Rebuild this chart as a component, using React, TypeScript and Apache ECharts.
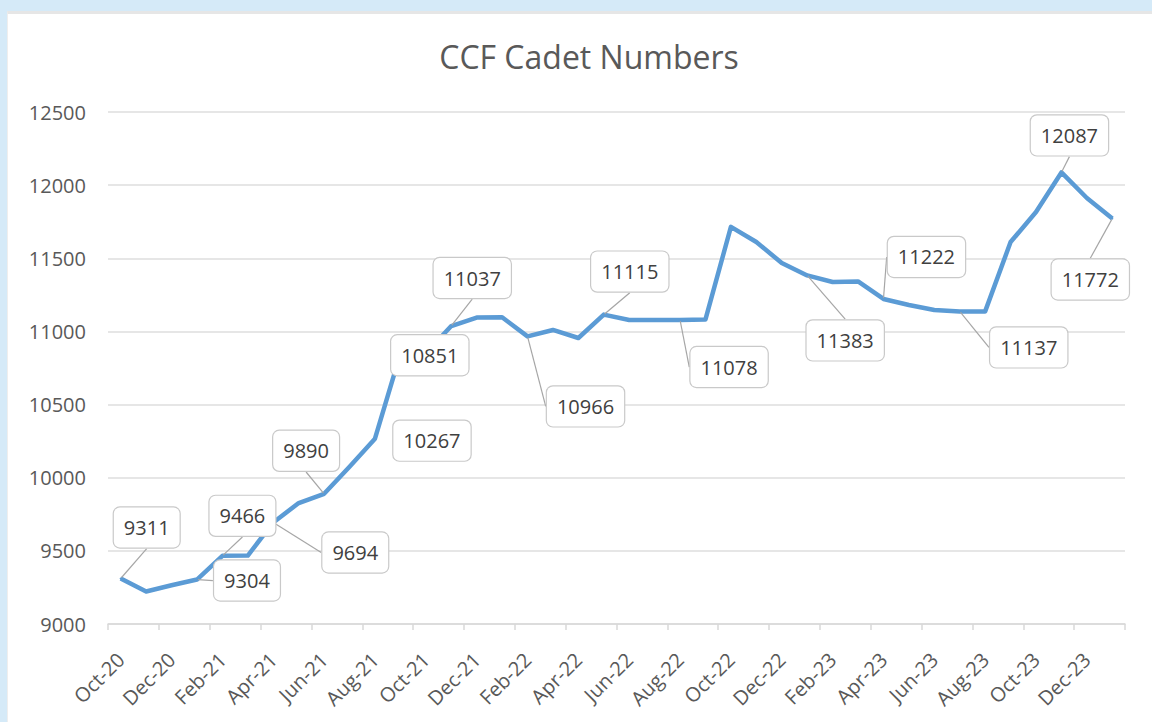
import React, { useEffect, useRef } from "react";
import * as echarts from "echarts";

const months: string[] = [
  "Oct-20", "Nov-20", "Dec-20", "Jan-21", "Feb-21", "Mar-21", "Apr-21", "May-21", "Jun-21", "Jul-21",
  "Aug-21", "Sep-21", "Oct-21", "Nov-21", "Dec-21", "Jan-22", "Feb-22", "Mar-22", "Apr-22", "May-22",
  "Jun-22", "Jul-22", "Aug-22", "Sep-22", "Oct-22", "Nov-22", "Dec-22", "Jan-23", "Feb-23", "Mar-23",
  "Apr-23", "May-23", "Jun-23", "Jul-23", "Aug-23", "Sep-23", "Oct-23", "Nov-23", "Dec-23", "Jan-24",
];

const cadets: number[] = [
  9311, 9222, 9265, 9304, 9466, 9468, 9694, 9827, 9890, 10075,
  10267, 10848, 10851, 11037, 11095, 11097, 10966, 11010, 10955, 11115,
  11078, 11078, 11078, 11082, 11715, 11611, 11468, 11383, 11338, 11342,
  11222, 11181, 11147, 11137, 11137, 11611, 11816, 12087, 11912, 11772,
];

// indices of points whose value is shown in a callout
const labelledPoints: number[] = [0, 3, 4, 6, 8, 10, 12, 13, 16, 19, 22, 27, 30, 33, 37, 39];

// callout offsets (label centre relative to the point), in pixels
const calloutOffsets: Record<number, [number, number]> = {
  0: [26, -51],
  3: [50, 1],
  4: [20, -40],
  6: [82, 30],
  8: [-18, -43],
  10: [57, 2],
  12: [4, 2],
  13: [21, -48],
  16: [58, 70],
  19: [26, -43],
  22: [49, 47],
  27: [38, 65],
  30: [43, -42],
  33: [69, 36],
  37: [8, -37],
  39: [-22, 61],
};
const noLeader: number[] = [10, 12];

const yMin = 9000;
const yMax = 12500;
const yStep = 500;

const FONT = "'Open Sans', 'Noto Sans', sans-serif";

export default function App() {
  const ref = useRef<HTMLDivElement>(null);

  useEffect(() => {
    if (!ref.current) return;
    const chart = echarts.init(ref.current, undefined, { renderer: "svg" });

    const seriesData = cadets.map((v, i) => {
      if (labelledPoints.indexOf(i) < 0) return v;
      return {
        value: v,
        label: { show: true },
        labelLine: { show: noLeader.indexOf(i) < 0 },
      };
    });

    chart.setOption({
      animation: false,
      backgroundColor: "transparent",
      title: {
        text: "CCF Cadet Numbers",
        left: 584,
        top: 35,
        textAlign: "center",
        textStyle: {
          fontFamily: FONT,
          fontSize: 32,
          fontWeight: "normal",
          color: "#595959",
        },
      },
      grid: { left: 108, right: 27, top: 112, bottom: 98, containLabel: false },
      xAxis: {
        type: "category",
        data: months,
        boundaryGap: true,
        axisLine: { lineStyle: { color: "#d9d9d9", width: 1.5 } },
        axisTick: {
          show: true,
          interval: 1,
          length: 6,
          lineStyle: { color: "#d9d9d9", width: 1.5 },
        },
        axisLabel: {
          interval: 1,
          rotate: 45,
          margin: 32,
          fontFamily: FONT,
          fontSize: 20,
          color: "#595959",
        },
        splitLine: { show: false },
      },
      yAxis: {
        type: "value",
        min: yMin,
        max: yMax,
        interval: yStep,
        axisLine: { show: false },
        axisTick: { show: false },
        axisLabel: {
          margin: 22,
          fontFamily: FONT,
          fontSize: 20,
          color: "#595959",
          formatter: (v: number) => String(v),
        },
        splitLine: { lineStyle: { color: "#dedede", width: 1.5 } },
      },
      series: [
        {
          type: "line",
          data: seriesData,
          showSymbol: true,
          showAllSymbol: true,
          symbol: "circle",
          symbolSize: 2,
          itemStyle: { color: "#5b9bd5" },
          lineStyle: { color: "#5b9bd5", width: 4.5, join: "round" },
          label: {
            show: false,
            position: "top",
            fontFamily: FONT,
            fontSize: 20,
            color: "#404040",
            backgroundColor: "#ffffff",
            borderColor: "#c9c9c9",
            borderWidth: 1.2,
            borderRadius: 6,
            padding: [8, 10, 8, 10],
            lineHeight: 24,
          },
          labelLine: {
            show: true,
            lineStyle: { color: "#a6a6a6", width: 1.2 },
          },
          labelLayout: (params: any) => {
            const off = calloutOffsets[params.dataIndex];
            if (!off) return {};
            const cx = params.rect.x + params.rect.width / 2;
            const cy = params.rect.y + params.rect.height / 2;
            return {
              x: cx + off[0],
              y: cy + off[1],
              align: "center",
              verticalAlign: "middle",
            };
          },
          z: 3,
        },
      ],
    });

    return () => chart.dispose();
  }, []);

  return (
    <div
      style={{
        position: "fixed",
        left: 0,
        top: 0,
        width: 1152,
        height: 722,
        background: "#d5eaf8",
        overflow: "hidden",
      }}
    >
      <div
        style={{
          position: "absolute",
          left: 7,
          top: 11,
          right: 0,
          bottom: 0,
          background: "#ffffff",
          borderTop: "3px solid #e6e6e6",
          borderLeft: "1px solid #eeeeee",
        }}
      />
      <div
        ref={ref}
        style={{ position: "absolute", left: 0, top: 0, width: 1152, height: 722 }}
      />
    </div>
  );
}
